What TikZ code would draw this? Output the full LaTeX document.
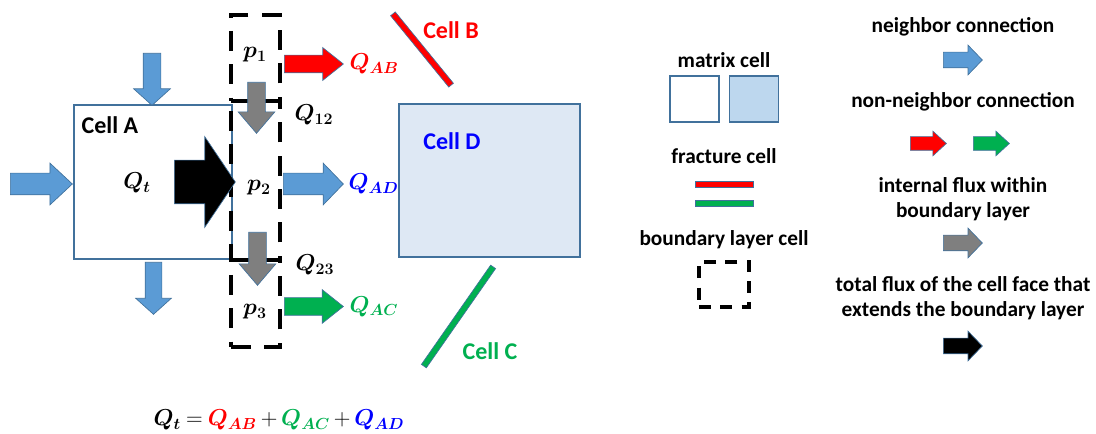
\documentclass[tikz,border=0pt]{standalone}
\usepackage{fontspec}
\setmainfont{Carlito}
\usepackage{bm}
\DeclareMathSizes{16.5}{16.5}{11.5}{8.5}
\definecolor{FlowBlue}{HTML}{5B9BD5}
\definecolor{EdgeBlue}{HTML}{41719C}
\definecolor{FracRed}{HTML}{FF0000}
\definecolor{FracGreen}{HTML}{00B050}
\definecolor{TextBlue}{HTML}{0000FF}
\definecolor{FluxGray}{HTML}{7F7F7F}
\definecolor{CellDFill}{HTML}{DEE8F4}
\definecolor{KeyFill}{HTML}{BDD7EE}
\usetikzlibrary{
    shapes.arrows,
    positioning,
}
\newcommand{\px}{0.75pt}

\begin{document}
\begin{tikzpicture}[x=0.75pt, y=-0.75pt,
        % fill, length, half shaft width, head extend, tip angle
        flowarrow/.style n args={5}{single arrow, draw=EdgeBlue, line width=0.5pt,
            inner xsep=0pt, inner ysep=#3*\px, fill=#1, minimum height=#2*\px,
            single arrow head extend=#4*\px, single arrow tip angle=#5, anchor=tail},
        cellbox/.style={rectangle, draw=EdgeBlue, line width=0.8pt, inner sep=0pt},
        fracline/.style={rectangle, draw=EdgeBlue, line width=0.5pt, fill=#1, inner sep=0pt},
        layerbox/.style={rectangle, draw=black, line width=3pt, dash pattern=on 15pt off 10pt,
            inner sep=0pt, minimum width=49*\px},
        celltext/.style={font=\fontsize{18}{20}\selectfont\bfseries},
        keytext/.style={font=\fontsize{16}{19}\selectfont\bfseries, align=center},
        fluxtext/.style={font=\fontsize{16.5}{20}\selectfont},
    ]
    \useasboundingbox (0,0) rectangle (1096,434);

    % cells A and D
    \node[cellbox, minimum width=158*\px, minimum height=154*\px] (cellA) at (153,182) {};
    \node[cellbox, fill=CellDFill, minimum width=181*\px, minimum height=153*\px] (cellD) at (489.5,180.5) {};
    \node[celltext, anchor=west] (cellAtext) at (77,125) {Cell A};
    \node[celltext, text=TextBlue] (cellDtext) at (452,141) {Cell D};

    % fracture cells B and C
    \node[fracline=FracRed, minimum width=92*\px, minimum height=6*\px, rotate=-50.8] (cellB) at (422,49.5) {};
    \node[fracline=FracGreen, minimum width=121*\px, minimum height=6*\px, rotate=55.1] (cellC) at (458.5,316.5) {};
    \node[celltext, text=FracRed] (cellBtext) at (451,30) {Cell B};
    \node[celltext, text=FracGreen] (cellCtext) at (490,351) {Cell C};

    % boundary layer cells
    \node[layerbox, minimum height=86*\px] (layer1) at (255.5,58) {};
    \node[layerbox, minimum height=159*\px] (layer2) at (255.5,180.5) {};
    \node[layerbox, minimum height=87*\px] (layer3) at (255.5,303.5) {};

    % neighbor fluxes of cell A
    \node[flowarrow={FlowBlue}{62}{10.5}{10}{86}] (inLeft) at (10,184) {};
    \node[flowarrow={FlowBlue}{52}{8.5}{9.5}{96}, rotate=-90] (inTop) at (152,53) {};
    \node[flowarrow={FlowBlue}{52}{8}{9.5}{96}, rotate=-90] (outBottom) at (153.5,262) {};
    \node[flowarrow={black}{61}{21.5}{23.5}{112}] (totalFlux) at (174,182) {};

    % internal fluxes
    \node[flowarrow={FluxGray}{51}{8.5}{9.5}{81}, rotate=-90] (flux12) at (256.5,82) {};
    \node[flowarrow={FluxGray}{53}{8.5}{9.5}{81}, rotate=-90] (flux23) at (257.5,232) {};

    % outgoing connections
    \node[flowarrow={FracRed}{59}{8.5}{7.5}{77}] (toB) at (284,64) {};
    \node[flowarrow={FlowBlue}{60}{10.5}{10}{92}] (toD) at (283,184) {};
    \node[flowarrow={FracGreen}{59}{8.5}{8}{77}] (toC) at (284,306.5) {};

    \node[fluxtext] (p1) at (255,55) {$\bm{p_1}$};
    \node[fluxtext] (p2) at (259,188) {$\bm{p_2}$};
    \node[fluxtext] (p3) at (255,312) {$\bm{p_3}$};
    \node[fluxtext] (Qt) at (137,183) {$\bm{Q_t}$};
    \node[fluxtext, anchor=west] (Q12) at (290,115) {$\bm{Q_{12}}$};
    \node[fluxtext, anchor=west] (Q23) at (291,265) {$\bm{Q_{23}}$};
    \node[fluxtext, text=FracRed, right=1*\px of toB.tip] (QAB) {$\bm{Q_{AB}}$};
    \node[fluxtext, text=TextBlue, right=0*\px of toD.tip] (QAD) {$\bm{Q_{AD}}$};
    \node[fluxtext, text=FracGreen, right=1*\px of toC.tip] (QAC) {$\bm{Q_{AC}}$};
    \node[fluxtext] (balance) at (279,420) {\thickmuskip=4mu\medmuskip=3mu$\bm{Q_t} = \textcolor{FracRed}{\bm{Q_{AB}}} + \textcolor{FracGreen}{\bm{Q_{AC}}} + \textcolor{TextBlue}{\bm{Q_{AD}}}$};

    % legend, left column
    \node[keytext] (keyMatrix) at (724,60) {matrix cell};
    \node[cellbox, minimum width=49*\px, minimum height=46*\px] (keyWhite) at (694.5,99) {};
    \node[cellbox, fill=KeyFill, minimum width=49*\px, minimum height=46*\px, right=9*\px of keyWhite] (keyBlue) {};
    \node[keytext] (keyFracture) at (724,156) {fracture cell};
    \node[fracline=FracRed, minimum width=58*\px, minimum height=6*\px] (keyRed) at (724,184) {};
    \node[fracline=FracGreen, minimum width=58*\px, minimum height=6*\px] (keyGreen) at (724,203) {};
    \node[keytext] (keyLayer) at (724,240) {boundary layer cell};
    \node[rectangle, draw=black, line width=2.4pt, dash pattern=on 9pt off 7pt,
        minimum width=50*\px, minimum height=45*\px] (keyDashed) at (724,284.5) {};

    % legend, right column
    \node[keytext] (keyNeighbor) at (963,27) {neighbor connection};
    \node[flowarrow={FlowBlue}{39}{7.5}{7}{92}] (keyBlueArrow) at (943,60) {};
    \node[keytext] (keyNonNeighbor) at (963,102) {non-neighbor connection};
    \node[flowarrow={FracRed}{36}{6.5}{5.5}{85}] (keyRedArrow) at (910,143.5) {};
    \node[flowarrow={FracGreen}{36}{6.5}{5.5}{85}] (keyGreenArrow) at (973,143.5) {};
    \node[keytext] (keyInternal) at (963,199) {internal flux within\\boundary layer};
    \node[flowarrow={FluxGray}{39}{7.5}{7}{92}] (keyGrayArrow) at (943,243) {};
    \node[keytext] (keyTotal) at (963,298) {total flux of the cell face that\\extends the boundary layer};
    \node[flowarrow={black}{39}{7.5}{7}{92}] (keyBlackArrow) at (943,346) {};
\end{tikzpicture}
\end{document}
